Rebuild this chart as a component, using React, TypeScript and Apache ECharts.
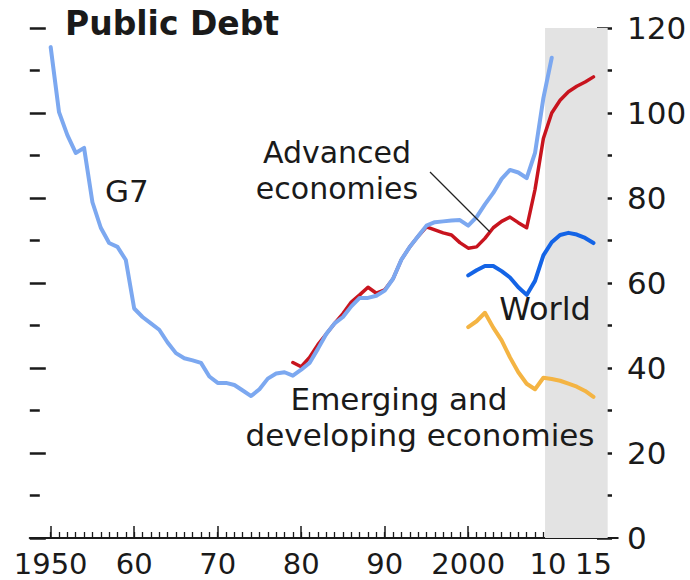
import React, { useEffect, useRef } from "react";
import * as echarts from "echarts";

// ---- data ----
const g7Start = 1950;
const g7Values = [
  115.5, 100.2, 94.8, 90.6, 91.8, 79, 73, 69.4, 68.5, 65.4,
  54, 52, 50.5, 49, 46, 43.5, 42.3, 41.8, 41.2, 38,
  36.5, 36.5, 36, 34.7, 33.4, 35, 37.5, 38.7, 39, 38.2,
  39.6, 41.2, 44.5, 48, 50.5, 52, 54.5, 56.5, 56.5, 57,
  58.2, 61, 65.5, 68.5, 71, 73.5, 74.3, 74.5, 74.7, 74.8,
  73.5, 75.5, 78.5, 81.2, 84.5, 86.6, 86, 84.7, 90.6, 103.5,
  113,
];

const advStart = 1979;
const advValues = [
  41.3, 40.3, 42.5, 45.5, 48, 50.5, 52.8, 55.5, 57.2, 59,
  57.6, 58.4, 61, 65.5, 68.5, 71, 73.2, 72.5, 71.8, 71.3,
  69.5, 68.2, 68.5, 70.5, 73, 74.5, 75.5, 74.2, 73, 82,
  94, 100, 103, 105, 106.3, 107.3, 108.5,
];

const worldStart = 2000;
const worldValues = [
  61.8, 63, 64, 64, 62.8, 61.3, 59, 57.2, 60.5, 66.5,
  69.6, 71.3, 71.8, 71.4, 70.6, 69.4,
];

const emStart = 2000;
const emValues = [
  49.6, 51, 53, 49.5, 46.5, 42.5, 39, 36.3, 35, 37.7,
  37.4, 37, 36.3, 35.6, 34.6, 33.2,
];

const minorTickYears = [
  1950, 1951, 1952, 1953, 1954, 1955, 1956, 1957, 1958, 1959,
  1960, 1961, 1962, 1963, 1964, 1965, 1966, 1967, 1968, 1969,
  1970, 1971, 1972, 1973, 1974, 1975, 1976, 1977, 1978, 1979,
  1980, 1981, 1982, 1983, 1984, 1985, 1986, 1987, 1988, 1989,
  1990, 1991, 1992, 1993, 1994, 1995, 1996, 1997, 1998, 1999,
  2000, 2001, 2002, 2003, 2004, 2005, 2006, 2007, 2008, 2009,
  2010, 2011, 2012, 2013, 2014, 2015,
];
const majorTickYears = [1950, 1960, 1970, 1980, 1990, 2000, 2010];
const xLabelYears = [1950, 1960, 1970, 1980, 1990, 2000, 2010, 2015];
const xLabelTexts = ["1950", "60", "70", "80", "90", "2000", "10", "15"];

const forecastStart = 2009.2;
const forecastEnd = 2016.7;

const FONT = "DejaVu Sans";
const INK = "#1a1a1a";

function toPairs(start: number, values: number[]) {
  return values.map((v, i) => [start + i, v]);
}

function label(
  text: string,
  x: number,
  y: number,
  align: string,
  size = 31,
  bold = false,
  lineHeight = 24
) {
  return {
    type: "text",
    x,
    y,
    z: 100,
    style: {
      text,
      font: `${bold ? "bold " : ""}${size}px "${FONT}"`,
      fill: INK,
      align,
      verticalAlign: "middle",
      lineHeight,
    },
  };
}

export default function App() {
  const ref = useRef<HTMLDivElement>(null);

  useEffect(() => {
    document.body.style.margin = "0";
    if (!ref.current) return;
    const chart = echarts.init(ref.current, undefined, { renderer: "svg" });

    const lineBase = {
      type: "line",
      showSymbol: false,
      symbol: "none",
      smooth: false,
      clip: false,
    };

    // label anchor: "10" sits a little left of its tick in the reference
    const labelPositions = xLabelYears.map((y) => (y === 2010 ? y - 0.45 : y));

    const option: any = {
      animation: false,
      backgroundColor: "#ffffff",
      grid: {
        left: 29.8,
        right: 72.3,
        top: 28,
        bottom: 42,
        containLabel: false,
        outerBoundsMode: "none",
      },
      xAxis: [
        {
          type: "value",
          min: 1947.5,
          max: 2017.9,
          axisLine: { show: true, lineStyle: { color: INK, width: 2.2 } },
          axisTick: {
            show: true,
            inside: true,
            length: 6,
            customValues: minorTickYears,
            lineStyle: { color: INK, width: 1.3 },
          },
          axisLabel: { show: false },
          splitLine: { show: false },
        },
        {
          type: "value",
          position: "bottom",
          min: 1947.5,
          max: 2017.9,
          axisLine: { show: false },
          axisTick: {
            show: true,
            inside: true,
            length: 12,
            customValues: majorTickYears,
            lineStyle: { color: INK, width: 1.5 },
          },
          axisLabel: {
            show: true,
            customValues: labelPositions,
            formatter: (v: number) => {
              const i = xLabelYears.indexOf(Math.round(v));
              return i >= 0 ? xLabelTexts[i] : "";
            },
            fontFamily: FONT,
            fontSize: 29,
            lineHeight: 24,
            color: INK,
            margin: 14,
          },
          splitLine: { show: false },
        },
      ],
      yAxis: [
        {
          type: "value",
          position: "left",
          min: 0,
          max: 120,
          interval: 20,
          axisLine: { show: false },
          axisTick: {
            show: true,
            inside: true,
            length: 16,
            lineStyle: { color: INK, width: 2.5 },
          },
          minorTick: {
            show: true,
            splitNumber: 2,
            length: 10,
            lineStyle: { color: INK, width: 2.5 },
          },
          axisLabel: { show: false },
          splitLine: { show: false },
        },
        {
          type: "value",
          position: "right",
          offset: -5.7,
          min: 0,
          max: 120,
          interval: 20,
          axisLine: { show: false },
          axisTick: {
            show: true,
            inside: true,
            length: 15,
            lineStyle: { color: INK, width: 2.5 },
          },
          minorTick: {
            show: true,
            splitNumber: 2,
            length: 9,
            lineStyle: { color: INK, width: 2.5 },
          },
          axisLabel: {
            show: true,
            margin: 15,
            fontFamily: FONT,
            fontSize: 31,
            color: INK,
          },
          splitLine: { show: false },
        },
      ],
      series: [
        {
          ...lineBase,
          name: "Emerging and developing economies",
          data: toPairs(emStart, emValues),
          lineStyle: { color: "#F4B443", width: 4, cap: "round", join: "round" },
          markArea: {
            silent: true,
            itemStyle: { color: "#e3e3e3" },
            data: [[{ xAxis: forecastStart, yAxis: 0 }, { xAxis: forecastEnd, yAxis: 120 }]],
          },
          z: 2,
        },
        {
          ...lineBase,
          name: "World",
          data: toPairs(worldStart, worldValues),
          lineStyle: { color: "#1464E6", width: 4, cap: "round", join: "round" },
          z: 3,
        },
        {
          ...lineBase,
          name: "Advanced economies",
          data: toPairs(advStart, advValues),
          lineStyle: { color: "#C8141E", width: 3.5, cap: "round", join: "round" },
          z: 4,
        },
        {
          ...lineBase,
          name: "G7",
          data: toPairs(g7Start, g7Values),
          lineStyle: { color: "#7CA8F0", width: 4, cap: "round", join: "round" },
          z: 5,
        },
      ],
      graphic: [
        label("Public Debt", 65, 23, "left", 33, true),
        label("G7", 105, 191, "left", 31),
        label("Advanced", 337, 152, "center", 30),
        label("economies", 337, 188, "center", 30),
        {
          type: "line",
          z: 100,
          shape: { x1: 430, y1: 172, x2: 490, y2: 232 },
          style: { stroke: "#222", lineWidth: 1.3 },
        },
        label("World", 545, 309, "center", 32),
        label("Emerging and", 399, 399, "center"),
        label("developing economies", 420, 435, "center"),
      ],
    };

    chart.setOption(option);
    return () => {
      chart.dispose();
    };
  }, []);

  return <div ref={ref} style={{ width: 690, height: 580 }} />;
}
